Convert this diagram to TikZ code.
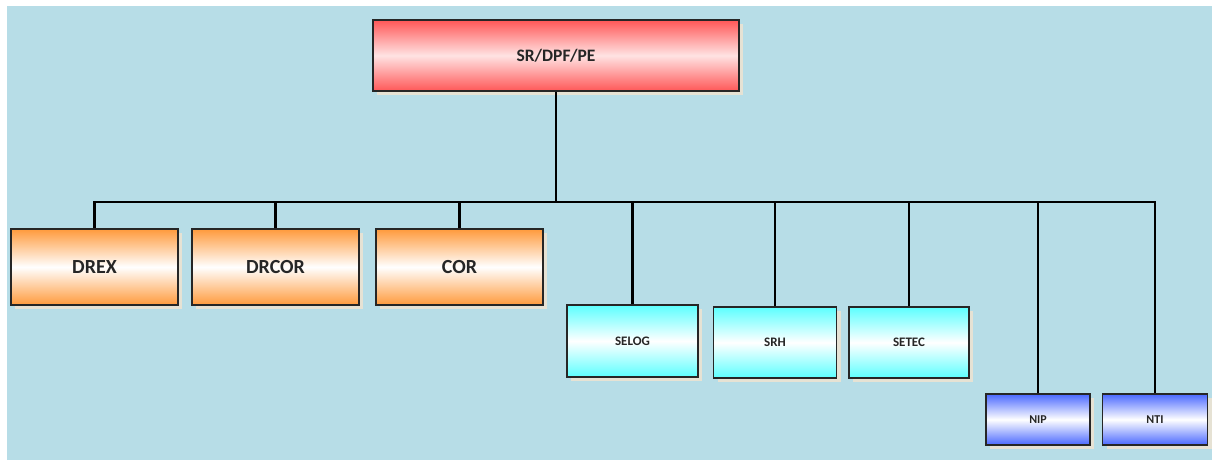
\documentclass[tikz,border=0pt]{standalone}
\usepackage{fontspec}
\setmainfont{Carlito}
\usetikzlibrary{shadows}
\definecolor{bgblue}{HTML}{B7DDE7}
\definecolor{shadowtan}{HTML}{E6E2D4}
\definecolor{redend}{HTML}{FF5757}
\definecolor{redmid}{HTML}{FFE3E3}
\definecolor{orangeend}{HTML}{FF9A3C}
\definecolor{cyanend}{HTML}{5CFFFF}
\definecolor{blueend}{HTML}{4A68FF}
\definecolor{labelgray}{HTML}{262626}
\tikzset{
  unit/.style={draw=black!85, line width=1.2pt, text=labelgray, font=\bfseries,
    inner sep=0pt,
    drop shadow={shadow xshift=4pt, shadow yshift=-4pt, fill=shadowtan, opacity=1}},
  headbox/.style={unit, top color=redend, bottom color=redend, middle color=redmid,
    font=\bfseries\fontsize{17.5}{20}\selectfont},
  deptbox/.style={unit, top color=orangeend, bottom color=orangeend, middle color=white,
    font=\bfseries\fontsize{20}{22}\selectfont},
  sectbox/.style={unit, top color=cyanend, bottom color=cyanend, middle color=white,
    font=\bfseries\fontsize{13}{15}\selectfont},
  corebox/.style={unit, top color=blueend, bottom color=blueend, middle color=white,
    font=\bfseries\fontsize{12}{14}\selectfont},
  link/.style={draw=black, line width=2.8pt}
}
\begin{document}
\begin{tikzpicture}[x=1pt, y=-1pt]
  \useasboundingbox (0,0) rectangle (1212,460);
  \fill[bgblue] (7,6) rectangle (1212,460);

  % head of the organisation
  \node[headbox, minimum width=366pt, minimum height=71pt] (head) at (556,55.5) {SR/DPF/PE};

  % directorates
  \node[deptbox, minimum width=167pt, minimum height=76pt] (drex)  at (94.5,267) {DREX};
  \node[deptbox, minimum width=167pt, minimum height=76pt] (drcor) at (275.5,267) {DRCOR};
  \node[deptbox, minimum width=167pt, minimum height=76pt] (cor)   at (459.5,267) {COR};

  % services
  \node[sectbox, minimum width=131pt, minimum height=72pt] (selog) at (632.5,341) {SELOG};
  \node[sectbox, minimum width=123pt, minimum height=71pt] (srh)   at (775,342.5) {SRH};
  \node[sectbox, minimum width=120pt, minimum height=71pt] (setec) at (909,342.5) {SETEC};

  % cores
  \node[corebox, minimum width=104pt, minimum height=51pt] (nip) at (1038,419.5) {NIP};
  \node[corebox, minimum width=105pt, minimum height=51pt] (nti) at (1155,419.5) {NTI};

  % bus line
  \coordinate (bus) at (555,202);
  \draw[link] (head.south) -- (head.south |- bus);
  \draw[link] (drex.north) -- (drex.north |- bus) -- (nti.north |- bus) -- (nti.north);
  \foreach \n in {drcor,cor,selog,srh,setec,nip}
    \draw[link] (\n.north) -- (\n.north |- bus);
\end{tikzpicture}
\end{document}
